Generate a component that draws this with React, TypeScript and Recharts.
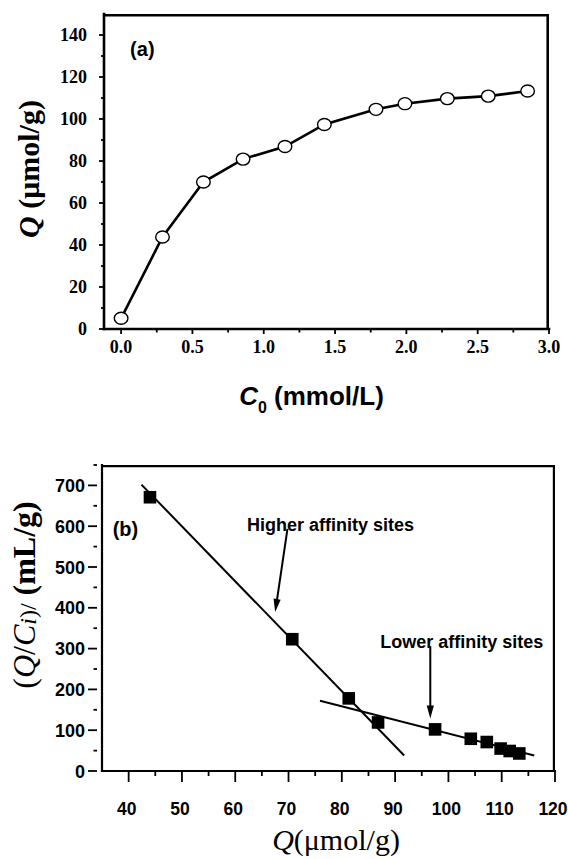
import React from 'react';
import { ComposedChart, Scatter, XAxis, YAxis, ReferenceLine, ReferenceDot, Label } from 'recharts';

// (a) isotherm
const isoC0 = [0.0, 0.29, 0.577, 0.855, 1.149, 1.425, 1.787, 1.99, 2.287, 2.574, 2.85];
const isoQ = [5.1, 43.8, 70.0, 80.9, 86.9, 97.4, 104.6, 107.3, 109.7, 110.9, 113.3];
// (b) Scatchard plot
const scQ = [44.0, 70.7, 81.3, 86.8, 97.5, 104.2, 107.2, 109.8, 111.5, 113.3];
const scQC = [671, 323, 178, 119, 102, 79, 71, 55, 49, 43];
const highFitQ = [42.4, 91.7];
const highFitQC = [702, 38];
const lowFitQ = [75.9, 116.1];
const lowFitQC = [172, 38];

const aXDomain = [-0.12, 3.0];
const aYDomain = [0, 150];
const aXTicks = [0, 0.25, 0.5, 0.75, 1.0, 1.25, 1.5, 1.75, 2.0, 2.25, 2.5, 2.75, 3.0];
const aYTicks = [0, 10, 20, 30, 40, 50, 60, 70, 80, 90, 100, 110, 120, 130, 140];
const bXDomain = [35, 120];
const bYDomain = [0, 750];
const bXTicks = [40, 45, 50, 55, 60, 65, 70, 75, 80, 85, 90, 95, 100, 105, 110, 115, 120];
const bYTicks = [0, 50, 100, 150, 200, 250, 300, 350, 400, 450, 500, 550, 600, 650, 700, 750];

const higherArrow = { fromQ: 69.8, fromQC: 593.6, toQ: 67.5, toQC: 389.7 };
const lowerArrow = { fromQ: 96.6, fromQC: 306, toQ: 96.6, toQC: 128.5 };
const higherLabel = { q: 62.2, qc: 588.7, text: 'Higher affinity sites' };
const lowerLabel = { q: 87.2, qc: 301, text: 'Lower affinity sites' };
const panelA = { c0: 0.063, q: 129.8, text: '(a)' };
const panelB = { q: 37.0, qc: 576, text: '(b)' };

const isoData = isoC0.map((x, i) => ({ x, y: isoQ[i] }));
const scData = scQ.map((x, i) => ({ x, y: scQC[i] }));
const highFit = highFitQ.map((x, i) => ({ x, y: highFitQC[i] }));
const lowFit = lowFitQ.map((x, i) => ({ x, y: lowFitQC[i] }));

// top/right frame edges, kept a half stroke inside the plot so they are not clipped
const aTopEdge = aYDomain[1] - (aYDomain[1] - aYDomain[0]) * 0.0042;
const aRightEdge = aXDomain[1] - (aXDomain[1] - aXDomain[0]) * 0.0029;
const bTopEdge = bYDomain[1] - (bYDomain[1] - bYDomain[0]) * 0.0036;
const bRightEdge = bXDomain[1] - (bXDomain[1] - bXDomain[0]) * 0.0024;

const SERIF = "'Liberation Serif', 'Times New Roman', serif";
const SANS = "'Liberation Sans', Arial, sans-serif";

const AXTick = (props: any) => {
  const { x, y, payload } = props;
  const v = payload.value;
  const major = Math.abs(v * 2 - Math.round(v * 2)) < 1e-6;
  return (
    <g>
      <line x1={x} y1={y} x2={x} y2={y + (major ? 5 : 3.5)} stroke="#000" strokeWidth={1.8} />
      {major && (
        <text x={x} y={y + 24} textAnchor="middle" fontFamily={SERIF} fontWeight="bold" fontSize={18} fill="#000">
          {v.toFixed(1)}
        </text>
      )}
    </g>
  );
};

const AYTick = (props: any) => {
  const { x, y, payload } = props;
  const v = payload.value;
  const major = v % 20 === 0;
  return (
    <g>
      <line x1={x - (major ? 5 : 3)} y1={y} x2={x} y2={y} stroke="#000" strokeWidth={1.8} />
      {major && (
        <text x={x - 17} y={y + 6} textAnchor="end" fontFamily={SERIF} fontWeight="bold" fontSize={18} fill="#000">
          {v}
        </text>
      )}
    </g>
  );
};

const BXTick = (props: any) => {
  const { x, y, payload } = props;
  const v = payload.value;
  const major = v % 10 === 0;
  return (
    <g>
      <line x1={x} y1={y} x2={x} y2={y + (major ? 11 : 5)} stroke="#000" strokeWidth={1.8} />
      {major && (
        <text x={x - 2} y={y + 44} textAnchor="middle" fontFamily={SANS} fontWeight="bold" fontSize={17.5} fill="#000">
          {v}
        </text>
      )}
    </g>
  );
};

const BYTick = (props: any) => {
  const { x, y, payload } = props;
  const v = payload.value;
  const major = v % 100 === 0;
  return (
    <g>
      <line x1={x - 5 - (major ? 9 : 3.5)} y1={y} x2={x - 5} y2={y} stroke="#000" strokeWidth={1.8} />
      {major && (
        <text x={x - 17} y={y + 6.5} textAnchor="end" fontFamily={SANS} fontWeight="bold" fontSize={18} fill="#000">
          {v}
        </text>
      )}
    </g>
  );
};

const Ellipse = (p: any) => (
  <ellipse cx={p.cx} cy={p.cy} rx={6.8} ry={6} fill="#fff" stroke="#000" strokeWidth={1.4} />
);
const Square = (p: any) => <rect x={p.cx - 6.3} y={p.cy - 6.3} width={12.6} height={12.6} fill="#000" />;
const NoMark = () => <g />;

const Arrow = (p: any) => {
  const { x1, y1, x2, y2 } = p;
  const dx = x2 - x1;
  const dy = y2 - y1;
  const len = Math.sqrt(dx * dx + dy * dy) || 1;
  const ux = dx / len;
  const uy = dy / len;
  const hl = 13;
  const hw = 3.6;
  const bx = x2 - ux * hl;
  const by = y2 - uy * hl;
  const pts = `${x2},${y2} ${bx - uy * hw},${by + ux * hw} ${bx + uy * hw},${by - ux * hw}`;
  return (
    <g>
      <line x1={x1} y1={y1} x2={bx + ux * 2} y2={by + uy * 2} stroke="#000" strokeWidth={2} />
      <polygon points={pts} fill="#000" />
    </g>
  );
};

const textShape = (text: string, size: number) => (p: any) => (
  <text x={p.cx} y={p.cy} fontFamily={SANS} fontWeight="bold" fontSize={size} fill="#000">
    {text}
  </text>
);

const AXTitle = (p: any) => {
  const vb = p.viewBox || { x: 104, y: 329, width: 445, height: 60 };
  return (
    <text x={vb.x + vb.width / 2 - 15} y={vb.y + 76} textAnchor="middle" fontFamily={SANS} fontWeight="bold" fontSize={26} fill="#000">
      <tspan fontStyle="italic">C</tspan>
      <tspan fontSize={16} dy={8}>0</tspan>
      <tspan dy={-8}> (mmol/L)</tspan>
    </text>
  );
};

const AYTitle = (p: any) => {
  const vb = p.viewBox || { x: 0, y: 14, width: 104, height: 315 };
  const cx = 28;
  const cy = vb.y + vb.height / 2 - 2.5;
  return (
    <text x={cx} y={cy} transform={`rotate(-90, ${cx}, ${cy})`} textAnchor="middle" dominantBaseline="central" fontFamily={SERIF} fontWeight="bold" fontSize={30} fill="#000">
      <tspan fontStyle="italic">Q</tspan>
      <tspan> (μmol/g)</tspan>
    </text>
  );
};

const BXTitle = (p: any) => {
  const vb = p.viewBox || { x: 102, y: 331, width: 453, height: 80 };
  return (
    <text x={vb.x + vb.width / 2 + 7.5} y={vb.y + 79} textAnchor="middle" fontFamily={SERIF} fontSize={30} fill="#000">
      <tspan fontStyle="italic">Q</tspan>
      <tspan>(μmol/g)</tspan>
    </text>
  );
};

const BYTitle = (p: any) => {
  const vb = p.viewBox || { x: 0, y: 25, width: 102, height: 306 };
  const cx = 24;
  const cy = vb.y + vb.height / 2 - 23;
  return (
    <text x={cx} y={cy} transform={`rotate(-90, ${cx}, ${cy})`} textAnchor="middle" dominantBaseline="central" fontFamily={SERIF} fontSize={32} fill="#000">
      <tspan>(</tspan>
      <tspan fontStyle="italic">Q</tspan>
      <tspan>/</tspan>
      <tspan fontStyle="italic">C</tspan>
      <tspan fontStyle="italic" fontSize={24} dy={4}>i</tspan>
      <tspan fontSize={24}>)/</tspan>
      <tspan dy={-4} fontWeight="bold"> (mL/g)</tspan>
    </text>
  );
};

export default function App() {
  return (
    <div style={{ position: 'absolute', left: 0, top: 0, width: 568, height: 859, background: '#fff' }}>
      <div style={{ position: 'absolute', left: 0, top: 0 }}>
        <ComposedChart width={568} height={430} data={isoData} margin={{ top: 14, right: 19, bottom: 41, left: 0 }}>
          <XAxis
            type="number"
            dataKey="x"
            domain={aXDomain}
            ticks={aXTicks}
            interval={0}
            axisLine={{ stroke: '#000', strokeWidth: 2.6, strokeLinecap: 'square' }}
            tickLine={false}
            tickSize={0}
            tickMargin={0}
            height={60}
            tick={<AXTick />}
          >
            <Label content={<AXTitle />} />
          </XAxis>
          <YAxis
            type="number"
            dataKey="y"
            domain={aYDomain}
            ticks={aYTicks}
            interval={0}
            axisLine={{ stroke: '#000', strokeWidth: 2.6, strokeLinecap: 'square' }}
            tickLine={false}
            tickSize={0}
            tickMargin={0}
            width={104}
            tick={<AYTick />}
          >
            <Label content={<AYTitle />} />
          </YAxis>
          <ReferenceLine y={aTopEdge} ifOverflow="visible" stroke="#000" strokeWidth={2.6} strokeOpacity={1} />
          <ReferenceLine x={aRightEdge} ifOverflow="visible" stroke="#000" strokeWidth={2.6} strokeOpacity={1} />
          <ReferenceDot x={panelA.c0} y={panelA.q} r={0} ifOverflow="visible" shape={textShape(panelA.text, 20)} />
          <Scatter
            data={isoData}
            fill="#000"
            line={{ stroke: '#000', strokeWidth: 2.6 }}
            shape={<Ellipse />}
            isAnimationActive={false}
          />
        </ComposedChart>
      </div>
      <div style={{ position: 'absolute', left: 0, top: 440 }}>
        <ComposedChart width={568} height={419} data={scData} margin={{ top: 25, right: 13, bottom: 8, left: 0 }}>
          <XAxis
            type="number"
            dataKey="x"
            domain={bXDomain}
            ticks={bXTicks}
            interval={0}
            axisLine={{ stroke: '#000', strokeWidth: 2.2, strokeLinecap: 'square' }}
            tickLine={false}
            tickSize={0}
            tickMargin={0}
            height={80}
            tick={<BXTick />}
          >
            <Label content={<BXTitle />} />
          </XAxis>
          <YAxis
            type="number"
            dataKey="y"
            domain={bYDomain}
            ticks={bYTicks}
            interval={0}
            axisLine={{ stroke: '#000', strokeWidth: 2.2, strokeLinecap: 'square' }}
            tickLine={false}
            tickSize={0}
            tickMargin={0}
            width={102}
            tick={<BYTick />}
          >
            <Label content={<BYTitle />} />
          </YAxis>
          <ReferenceLine y={bTopEdge} ifOverflow="visible" stroke="#000" strokeWidth={2.2} strokeOpacity={1} />
          <ReferenceLine x={bRightEdge} ifOverflow="visible" stroke="#000" strokeWidth={2.2} strokeOpacity={1} />
          <ReferenceDot x={panelB.q} y={panelB.qc} r={0} ifOverflow="visible" shape={textShape(panelB.text, 20)} />
          <ReferenceDot x={higherLabel.q} y={higherLabel.qc} r={0} ifOverflow="visible" shape={textShape(higherLabel.text, 18)} />
          <ReferenceDot x={lowerLabel.q} y={lowerLabel.qc} r={0} ifOverflow="visible" shape={textShape(lowerLabel.text, 18)} />
          <ReferenceLine
            segment={[{ x: higherArrow.fromQ, y: higherArrow.fromQC }, { x: higherArrow.toQ, y: higherArrow.toQC }]}
            ifOverflow="visible"
            shape={Arrow}
          />
          <ReferenceLine
            segment={[{ x: lowerArrow.fromQ, y: lowerArrow.fromQC }, { x: lowerArrow.toQ, y: lowerArrow.toQC }]}
            ifOverflow="visible"
            shape={Arrow}
          />
          <Scatter data={highFit} fill="#000" line={{ stroke: '#000', strokeWidth: 2 }} shape={<NoMark />} isAnimationActive={false} />
          <Scatter data={lowFit} fill="#000" line={{ stroke: '#000', strokeWidth: 2 }} shape={<NoMark />} isAnimationActive={false} />
          <Scatter data={scData} fill="#000" shape={<Square />} isAnimationActive={false} />
        </ComposedChart>
      </div>
    </div>
  );
}
